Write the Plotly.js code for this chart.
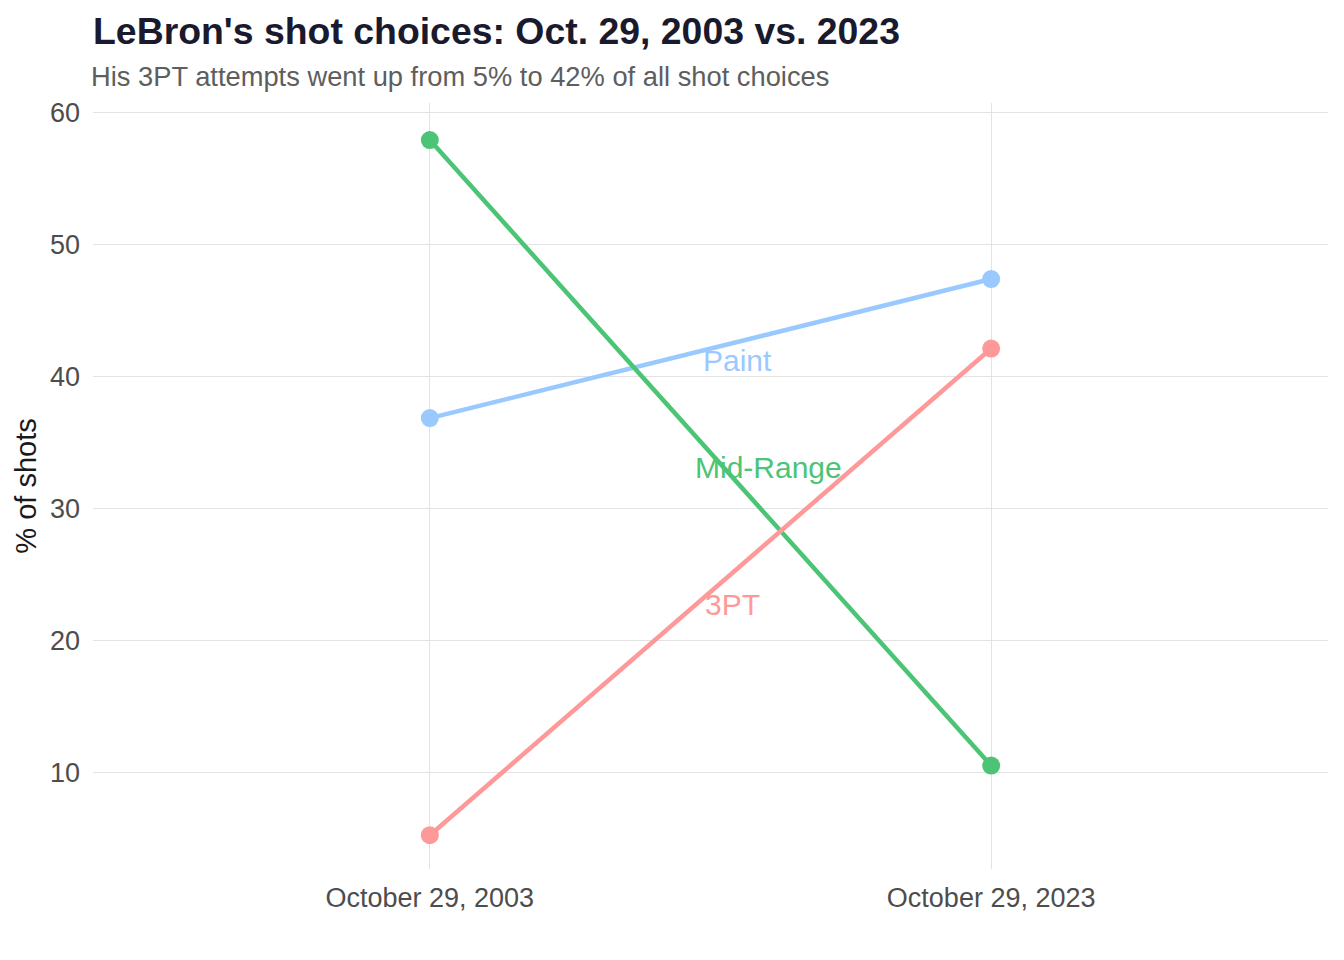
<!DOCTYPE html>
<html>
<head>
<meta charset="utf-8">
<script src="https://cdn.plot.ly/plotly-3.0.1.min.js"></script>
<style>
  html, body { margin: 0; padding: 0; background: #ffffff; }
  #chart { width: 1344px; height: 960px; }
</style>
</head>
<body>
<div id="chart"></div>
<script>
// shot share per game (shots out of 19 each night)
var dates = ['October 29, 2003', 'October 29, 2023'];
var shotTypes = ['Paint', 'Mid-Range', '3PT'];
var paintPct = [36.84, 47.37];
var midPct = [57.89, 10.53];
var threePct = [5.26, 42.11];
var colors = ['#99c9ff', '#4cc475', '#ff9999'];

// label spots between the two dates
var labelX = [0.548, 0.603, 0.539];
var labelY = [41.2, 33.1, 22.7];

var series = [paintPct, midPct, threePct];

var data = series.map(function (vals, i) {
  return {
    x: dates,
    y: vals,
    type: 'scatter',
    mode: 'lines+markers',
    name: shotTypes[i],
    hoverinfo: 'none',
    line: {color: colors[i], width: 4.5},
    marker: {color: colors[i], size: 18}
  };
});

var annotations = shotTypes.map(function (t, i) {
  return {
    text: t,
    x: labelX[i],
    y: labelY[i],
    xref: 'x',
    yref: 'y',
    showarrow: false,
    xanchor: 'center',
    yanchor: 'middle',
    font: {family: 'Liberation Sans, Arial, sans-serif', size: 30, color: colors[i]}
  };
});

// subtitle
annotations.push({
  text: 'His 3PT attempts went up from 5% to 42% of all shot choices',
  xref: 'paper',
  yref: 'paper',
  x: 0,
  y: 1.034,
  xanchor: 'left',
  yanchor: 'middle',
  borderpad: 0,
  xshift: -3,
  showarrow: false,
  font: {family: 'Liberation Sans, Arial, sans-serif', size: 27.3, color: '#5e5e5e'}
});

var layout = {
  width: 1344,
  height: 960,
  plot_bgcolor: '#ffffff',
  paper_bgcolor: '#ffffff',
  showlegend: false,
  margin: {t: 103, b: 91, l: 93, r: 16},
  font: {family: 'Liberation Sans, Arial, sans-serif', size: 23, color: '#4d4d4d'},
  title: {
    text: "<b>LeBron's shot choices: Oct. 29, 2003 vs. 2023</b>",
    xref: 'container',
    yref: 'container',
    x: 93 / 1344,
    y: 1 - 31 / 960,
    xanchor: 'left',
    yanchor: 'middle',
    font: {family: 'Liberation Sans, Arial, sans-serif', size: 37.4, color: '#1a1a2e'}
  },
  xaxis: {
    type: 'category',
    range: [-0.6, 1.6],
    showgrid: true,
    gridcolor: '#e3e3e3',
    gridwidth: 1,
    zeroline: false,
    showline: false,
    ticks: '',
    ticklabelstandoff: 10,
    tickfont: {size: 27, color: '#4d4d4d'}
  },
  yaxis: {
    range: [2.7, 60.7],
    tickvals: [10, 20, 30, 40, 50, 60],
    showgrid: true,
    gridcolor: '#e3e3e3',
    gridwidth: 1,
    zeroline: false,
    showline: false,
    ticks: '',
    ticklabelstandoff: 12,
    tickfont: {size: 27, color: '#4d4d4d'},
    title: {
      text: '% of shots',
      standoff: 4,
      font: {size: 29, color: '#1a1a1a'}
    }
  },
  annotations: annotations
};

var config = {responsive: false, displayModeBar: false, staticPlot: true};

Plotly.newPlot('chart', data, layout, config);
</script>
</body>
</html>
